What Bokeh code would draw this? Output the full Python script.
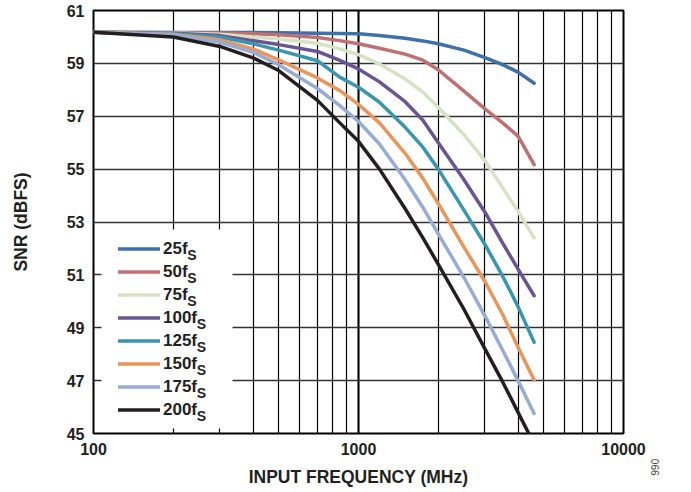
from bokeh.plotting import figure
from bokeh.models import (LogTicker, FixedTicker, PrintfTickFormatter, Legend,
                          LegendItem, BoxAnnotation, Title)
from bokeh.core.properties import value
from bokeh.embed import file_html
from bokeh.resources import INLINE

# ---------------- data ----------------
freq_mhz = [100, 200, 300, 400, 500, 700, 850, 1000, 1200, 1500, 1750,
            2000, 2500, 3000, 3500, 4000, 4600]

snr_25fs = [60.18, 60.17, 60.17, 60.17, 60.16, 60.14, 60.13, 60.12, 60.05, 59.95, 59.85,
            59.74, 59.50, 59.22, 58.95, 58.67, 58.25]
snr_50fs = [60.18, 60.16, 60.15, 60.12, 60.08, 59.98, 59.86, 59.74, 59.57, 59.35, 59.12,
            58.76, 57.95, 57.28, 56.75, 56.25, 55.17]
snr_75fs = [60.18, 60.15, 60.10, 60.00, 59.92, 59.76, 59.55, 59.33, 58.98, 58.41, 57.91,
            57.34, 56.30, 55.32, 54.30, 53.40, 52.40]
snr_100fs = [60.18, 60.14, 60.05, 59.86, 59.71, 59.45, 59.11, 58.79, 58.30, 57.55, 56.85,
             56.00, 54.60, 53.37, 52.20, 51.22, 50.21]
snr_125fs = [60.18, 60.12, 60.00, 59.74, 59.50, 59.10, 58.48, 58.10, 57.53, 56.58, 55.83,
             55.00, 53.45, 52.15, 50.95, 49.80, 48.45]
snr_150fs = [60.18, 60.10, 59.89, 59.55, 59.13, 58.45, 57.97, 57.45, 56.75, 55.60, 54.65,
             53.70, 52.05, 50.75, 49.50, 48.26, 47.02]
snr_175fs = [60.18, 60.08, 59.80, 59.42, 58.95, 58.05, 57.40, 56.80, 55.95, 54.60, 53.55,
             52.55, 50.90, 49.45, 48.15, 47.00, 45.76]
snr_200fs = [60.18, 60.00, 59.64, 59.21, 58.73, 57.60, 56.75, 56.05, 55.00, 53.50, 52.40,
             51.40, 49.70, 48.20, 46.95, 45.80, 44.60]

series_values = [snr_25fs, snr_50fs, snr_75fs, snr_100fs,
                 snr_125fs, snr_150fs, snr_175fs, snr_200fs]
series_names = ["25f", "50f", "75f", "100f", "125f", "150f", "175f", "200f"]
series_subscript = "S"
series_colors = ["#3E70AA", "#C07070", "#D5E3C2", "#6A5496",
                 "#3896B0", "#E8965A", "#96ACD4", "#231F20"]

y_ticks = [45, 47, 49, 51, 53, 55, 57, 59, 61]
x_label = "INPUT FREQUENCY (MHz)"
y_label = "SNR (dBFS)"
fig_id = "066"

# ---------------- layout ----------------
W, H = 691, 492
FL, FT = 93, 10          # frame left / top inside the canvas
FW, FH = 530, 423        # frame size
TEXT = "#231F20"
FONT = "Liberation Sans"

p = figure(width=W, height=H, x_axis_type="log",
           x_range=(100, 10000), y_range=(45, 61),
           output_backend="svg", toolbar_location=None,
           min_border_left=FL, min_border_top=FT,
           min_border_right=W - FL - FW, min_border_bottom=H - FT - FH)

p.background_fill_color = "white"
p.border_fill_color = "white"
p.outline_line_color = "black"
p.outline_line_width = 2

# axes
p.xaxis.ticker = LogTicker(num_minor_ticks=10)
p.xaxis.formatter = PrintfTickFormatter(format="%d")
p.yaxis.ticker = FixedTicker(ticks=y_ticks)
for ax in (p.xaxis[0], p.yaxis[0]):
    ax.axis_line_color = None
    ax.major_tick_line_color = None
    ax.minor_tick_line_color = None
    ax.major_tick_out = 0
    ax.minor_tick_out = 0
    ax.major_label_text_font = FONT
    ax.major_label_text_font_style = "bold"
    ax.major_label_text_font_size = "16px"
    ax.major_label_text_color = TEXT
    ax.axis_label_text_font = FONT
    ax.axis_label_text_font_style = "bold"
    ax.axis_label_text_font_size = "17.5px"
    ax.axis_label_text_color = TEXT
p.xaxis.major_label_standoff = 9
p.yaxis.major_label_standoff = 9
p.xaxis.axis_label = x_label
p.yaxis.axis_label = y_label
p.xaxis.axis_label_standoff = 9
p.yaxis.axis_label_standoff = 33

# grids
p.xgrid.grid_line_color = "black"
p.xgrid.grid_line_width = 2
p.xgrid.minor_grid_line_color = "black"
p.xgrid.minor_grid_line_width = 1.2
p.ygrid.grid_line_color = "#333333"
p.ygrid.grid_line_width = 1.3


# helpers converting canvas pixel positions to data coordinates (text/box placement)
def dx(px):
    return 10 ** (2 + 2 * (px - FL) / FW)


def dy(py):
    return 61 - 16 * (py - FT) / FH


# legend geometry (canvas pixels)
ROW, GW, STAND = 23, 42, 3
glyph_x0 = 118                      # left end of the legend sample lines
row0_c = 248.5                      # centre of the first legend row
n = len(series_names)
box_left, box_right = 101, 232
box_top, box_bottom = 229, 428

# white panel behind the legend (hides the grid there)
p.add_layout(BoxAnnotation(left=dx(box_left), right=dx(box_right),
                           top=dy(box_top), bottom=dy(box_bottom),
                           fill_color="white", fill_alpha=1.0,
                           line_color=None, level="underlay"))

# curves
items = []
for name, vals, col in zip(series_names, series_values, series_colors):
    r = p.line(freq_mhz, vals, line_color=col, line_width=3.5,
               line_cap="round", line_join="round")
    items.append(LegendItem(label=name, renderers=[r]))

legend_bottom = row0_c - ROW / 2 + ROW * n
legend = Legend(items=items,
                location=(glyph_x0 - FL, FT + FH - legend_bottom),
                padding=0, spacing=0, margin=0,
                glyph_width=GW, glyph_height=ROW, label_height=ROW,
                label_standoff=STAND,
                border_line_color=None, background_fill_alpha=0.0,
                label_text_font=FONT, label_text_font_style="bold",
                label_text_font_size="17px", label_text_color=TEXT)
p.add_layout(legend)

# subscripts "S" after each legend label
char_w = {"0": 0.556, "1": 0.556, "2": 0.556, "5": 0.556, "7": 0.556, "f": 0.333}
text_x0 = glyph_x0 + GW + STAND
sub_x, sub_y = [], []
for i, name in enumerate(series_names):
    w = sum(char_w.get(c, 0.556) for c in name) * 17
    row_c = row0_c + ROW * i
    sub_x.append(dx(text_x0 + w - 0.8))
    sub_y.append(dy(row_c + 6))
p.text(x=sub_x, y=sub_y, text=[series_subscript] * n,
       text_font=value(FONT), text_font_style="bold", text_font_size="14px",
       text_color=TEXT, text_align="left", text_baseline="alphabetic")

# small figure id at the lower right edge
p.add_layout(Title(text=fig_id, align="right", offset=-42, standoff=54,
                   text_font=FONT, text_font_style="normal",
                   text_font_size="10px", text_color="#444444"), "right")

open("out.html", "w").write(file_html(p, INLINE))
